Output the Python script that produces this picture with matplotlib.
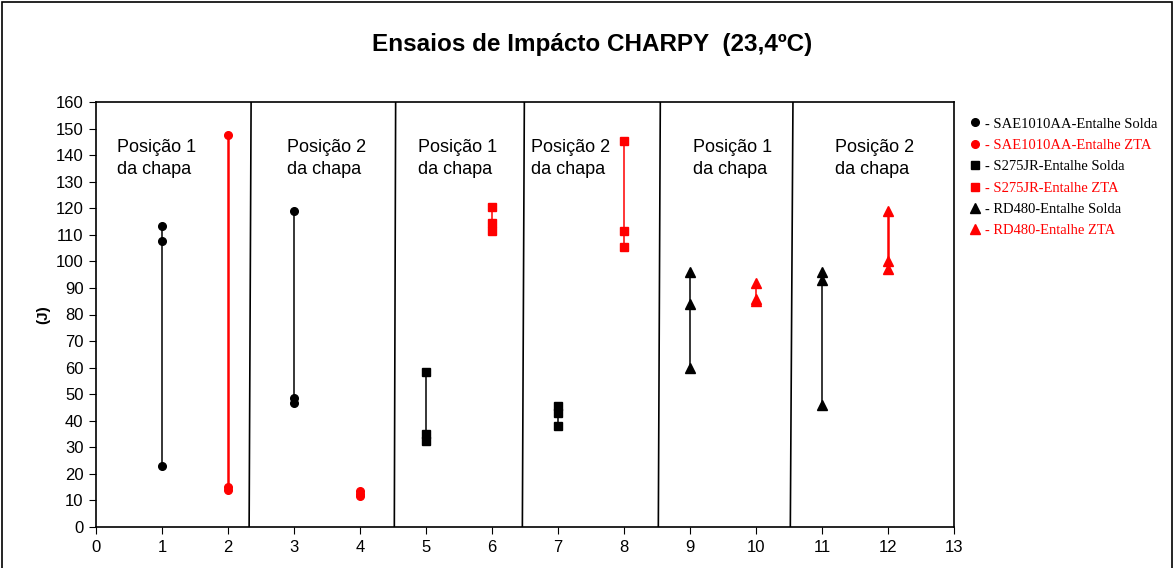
import numpy as np
import matplotlib.pyplot as plt
from matplotlib.patches import Rectangle
from matplotlib.transforms import Bbox, TransformedBbox

# dados (J)
x_pos = [1, 2, 3, 4, 5, 6, 7, 8, 9, 10, 11, 12]
energia = [
    [113.5, 107.5, 23.0],    # SAE1010AA solda
    [147.5, 15.0, 14.0],     # SAE1010AA ZTA
    [119.0, 48.5, 46.5],     # SAE1010AA solda
    [13.5, 12.5, 11.5],      # SAE1010AA ZTA
    [58.5, 35.0, 32.5],      # S275JR solda
    [120.5, 114.5, 111.5],   # S275JR ZTA
    [45.5, 43.0, 38.0],      # S275JR solda
    [145.5, 111.5, 105.5],   # S275JR ZTA
    [96.0, 84.0, 60.0],      # RD480 solda
    [92.0, 86.0, 85.0],      # RD480 ZTA
    [96.0, 93.0, 46.0],      # RD480 solda
    [119.0, 100.0, 97.0],    # RD480 ZTA
]
marcadores = ['o', 'o', 'o', 'o', 's', 's', 's', 's', '^', '^', '^', '^']
cores = ['black', 'red'] * 6

legenda = ['- SAE1010AA-Entalhe Solda', '- SAE1010AA-Entalhe ZTA',
           '- S275JR-Entalhe Solda', '- S275JR-Entalhe ZTA',
           '- RD480-Entalhe Solda', '- RD480-Entalhe ZTA']
leg_marc = ['o', 'o', 's', 's', '^', '^']
leg_cor = ['black', 'red'] * 3

# divisorias (topo, base)
div_topo = [2.35, 4.54, 6.49, 8.55, 10.56]
div_base = [2.32, 4.52, 6.46, 8.52, 10.52]

rotulos = ['Posição 1\nda chapa', 'Posição 2\nda chapa'] * 3
rot_x = [0.32, 2.89, 4.88, 6.59, 9.05, 11.2]

plt.rcParams['font.family'] = ['Liberation Sans', 'DejaVu Sans']

fig = plt.figure(figsize=(11.74, 5.68), dpi=100)
ax = fig.add_axes([96/1174, 1-527/568, (954-96)/1174, (527-102)/568])
fig.patches.append(Rectangle((0.002, -0.01), 0.996, 1.006, transform=fig.transFigure,
                             fill=False, edgecolor='black', lw=1.2))

for x, vals, m, c in zip(x_pos, energia, marcadores, cores):
    v = np.array(vals)
    lw = 1.8 if (c == 'red' and x in (2, 12)) else 1.1
    ax.plot([x, x], [v.min(), v.max()], color=c, lw=lw, zorder=2)
    ms = 6.5 if m == '^' else 5.5
    ax.plot([x] * len(v), v, linestyle='none', marker=m, color=c, ms=ms, zorder=3)

for xt, xb in zip(div_topo, div_base):
    ax.plot([xb, xt], [0, 160], color='black', lw=1.2, zorder=1)

# o texto aparece cortado na parte de baixo
clip = TransformedBbox(Bbox([[0, 1 - (179 - 102) / (527 - 102)], [1, 1]]), ax.transAxes)
for x, t in zip(rot_x, rotulos):
    txt = ax.text(x, 146, t, fontsize=13, va='top', ha='left', linespacing=1.35)
    txt.set_clip_box(clip)
    txt.set_clip_on(True)

ax.set_xlim(0, 13)
ax.set_ylim(0, 160)
ax.set_xticks(np.arange(0, 14, 1))
ax.set_yticks(np.arange(0, 161, 10))
ax.tick_params(direction='out', length=5, labelsize=12, pad=4)
for s in ax.spines.values():
    s.set_linewidth(1.2)

ax.set_ylabel('(J)', fontsize=11, fontweight='bold', labelpad=4)
fig.text(592/1174, 1 - 45/568, 'Ensaios de Impácto CHARPY  (23,4ºC)',
         ha='center', va='center', fontsize=17.5, fontweight='bold')

hs = [plt.Line2D([], [], linestyle='none', marker=m, color=c,
                 ms=6.5 if m == '^' else 5.5) for m, c in zip(leg_marc, leg_cor)]
fig.legend(hs, legenda, loc='upper left', bbox_to_anchor=(962/1174, 1-110/568),
           frameon=False, handlelength=0.8, handletextpad=0.3, labelspacing=0.56,
           borderpad=0, prop={'family': 'Liberation Serif', 'size': 10.5},
           labelcolor=leg_cor)

fig.savefig('out.png', dpi=100)
